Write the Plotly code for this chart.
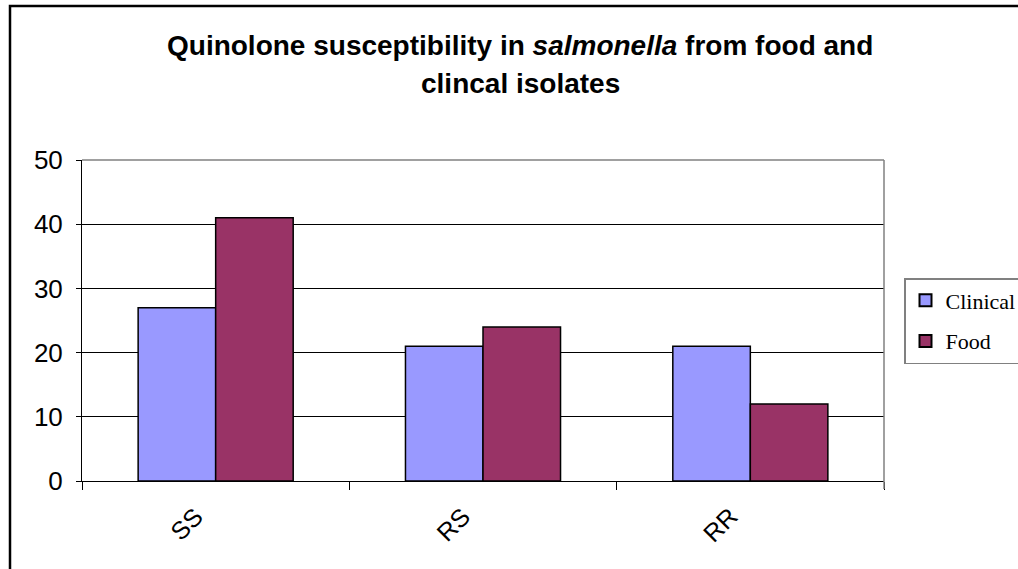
import plotly.graph_objects as go

categories = ["SS", "RS", "RR"]
clinical = [27, 21, 21]
food = [41, 24, 12]
y_ticks = [0, 10, 20, 30, 40, 50]
title_lines = ["Quinolone susceptibility in <i>salmonella</i> from food and", "clincal isolates"]

fig = go.Figure()
fig.add_trace(go.Bar(name="Clinical", x=categories, y=clinical, legendgroup="c",
                     marker=dict(color="#9999FF", line=dict(color="black", width=1.5))))
fig.add_trace(go.Bar(name="Food", x=categories, y=food, legendgroup="f",
                     marker=dict(color="#993366", line=dict(color="black", width=1.5))))

fig.update_layout(
    width=1018, height=569,
    margin=dict(l=82, r=134, t=160, b=88, autoexpand=False),
    paper_bgcolor="white", plot_bgcolor="white",
    barmode="group", bargap=0.42, bargroupgap=0,
    font=dict(family="Liberation Sans, Arial", color="black"),
    legend=dict(
        x=(904-82)/802, xanchor="left", y=(481-278)/321, yanchor="top",
        bordercolor="#808080", borderwidth=1.5, bgcolor="white",
        font=dict(family="Liberation Serif, Times New Roman", size=22, color="black"),
        tracegroupgap=9, itemsizing="constant", itemwidth=30,
    ),
    showlegend=True,
)

for i, line in enumerate(title_lines):
    fig.add_annotation(text="<b>" + line + "</b>", xref="paper", yref="paper",
                       x=(520-82)/802, y=(481-(45 + 39*i))/321, xanchor="center", yanchor="middle",
                       showarrow=False, font=dict(family="Liberation Sans, Arial", size=28, color="black"))

fig.update_xaxes(
    type="category", showline=True, linecolor="black", linewidth=1,
    ticks="outside", tickson="boundaries", ticklen=8, tickcolor="black",
    tickangle=-45, tickfont=dict(size=25, family="Liberation Sans, Arial"),
    ticklabelshift=-20, ticklabelstandoff=10,
    showgrid=False, mirror=False,
)
fig.update_yaxes(
    range=[0, 50], tickvals=y_ticks, showline=True, linecolor="black", linewidth=1,
    ticks="outside", ticklen=5, tickcolor="black",
    tickfont=dict(size=26, family="Liberation Sans, Arial"), ticklabelstandoff=8,
    showgrid=True, gridcolor="black", gridwidth=1, zeroline=False,
)

# plot-area border (grey on top and right)
fig.add_shape(type="line", xref="paper", yref="paper", x0=0, x1=1, y0=1, y1=1,
              line=dict(color="#808080", width=1.5), layer="above")
fig.add_shape(type="line", xref="paper", yref="paper", x0=1, x1=1, y0=0, y1=1,
              line=dict(color="#808080", width=1.5), layer="above")
fig.add_shape(type="line", xref="paper", yref="paper", x0=1, x1=1, y0=0, y1=-8/321,
              line=dict(color="#808080", width=1.5), layer="above")
# outer chart frame (extends beyond the visible window)
fig.add_shape(type="rect", xref="paper", yref="paper",
              x0=(10-82)/802, x1=1.4, y0=-0.5, y1=(481-6)/321,
              line=dict(color="black", width=2.5), layer="above")

fig.write_html("out.html")
